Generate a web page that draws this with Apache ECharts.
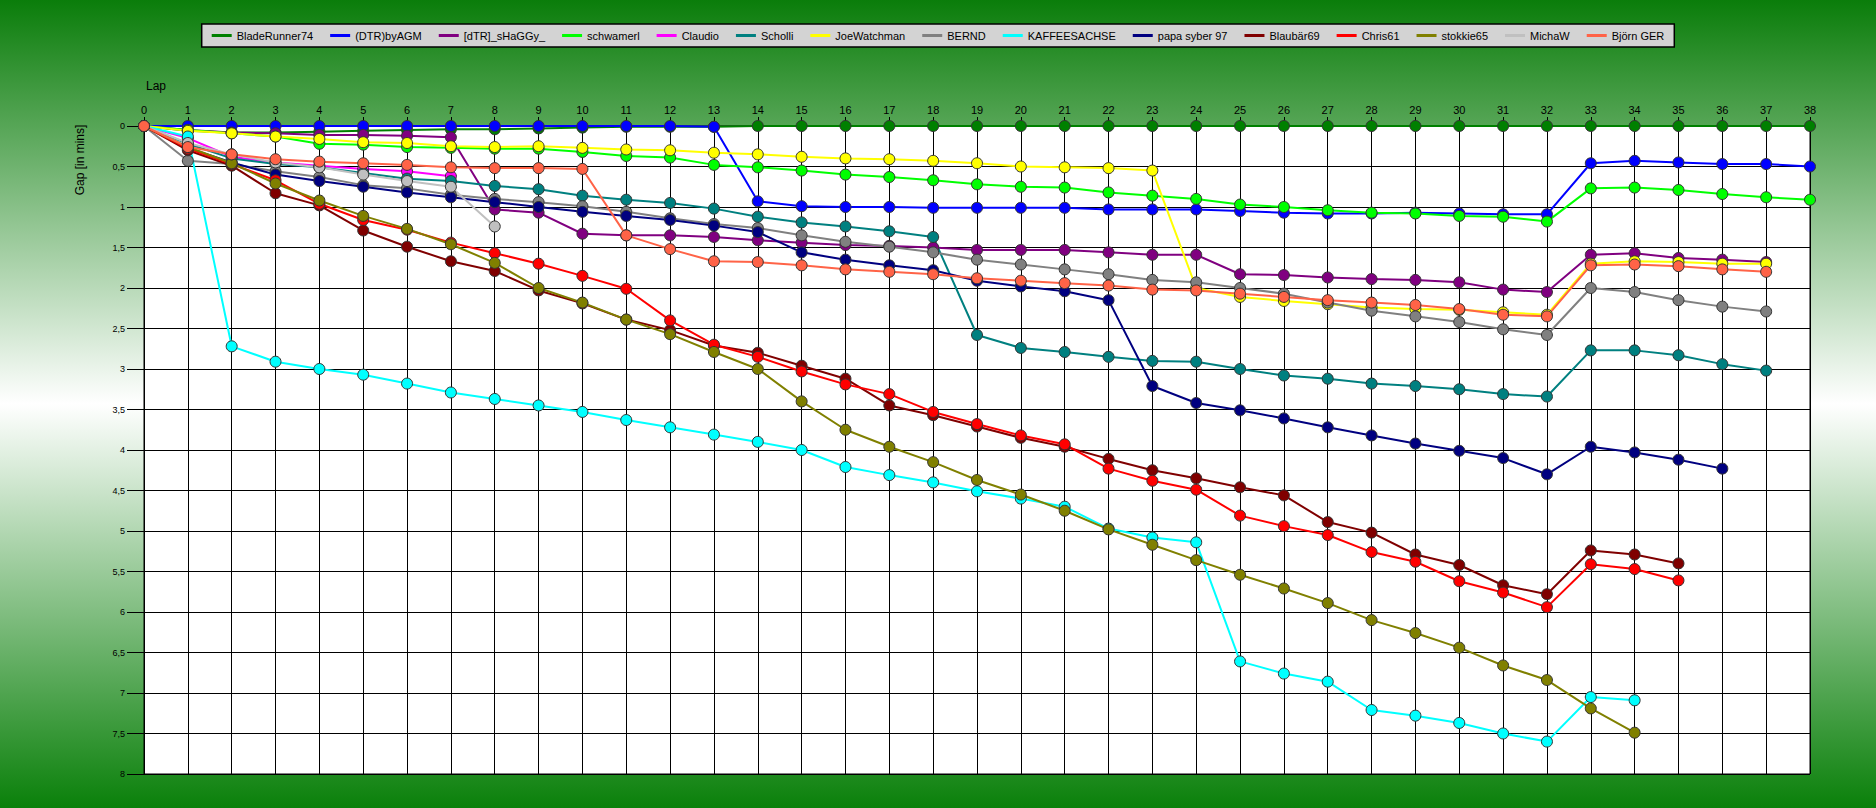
<!DOCTYPE html>
<html>
<head>
<meta charset="utf-8">
<script src="https://cdn.jsdelivr.net/npm/echarts@6/dist/echarts.min.js"></script>
<style>
html,body{margin:0;padding:0;width:1876px;height:808px;overflow:hidden;}
#chart{width:1876px;height:808px;}
</style>
</head>
<body>
<div id="chart"></div>
<script>
var laps = ['0','1','2','3','4','5','6','7','8','9','10','11','12','13','14','15','16','17','18','19','20','21','22','23','24','25','26','27','28','29','30','31','32','33','34','35','36','37','38'];
var yTicks = ['0','0,5','1','1,5','2','2,5','3','3,5','4','4,5','5','5,5','6','6,5','7','7,5','8'];

var names = ['BladeRunner74','(DTR)byAGM','[dTR]_sHaGGy_','schwamerl','Claudio','Scholli','JoeWatchman','BERND','KAFFEESACHSE','papa syber 97','Blaubär69','Chris61','stokkie65','MichaW','Björn GER'];
var colors = ['#008000','#0000FF','#800080','#00FF00','#FF00FF','#008080','#FFFF00','#808080','#00FFFF','#000080','#800000','#FF0000','#808000','#C0C0C0','#FF6347'];

var bladeRunner74 = [0,0.06,0.08,0.08,0.07,0.06,0.05,0.04,0.04,0.03,0.02,0.01,0.01,0.01,0,0,0,0,0,0,0,0,0,0,0,0,0,0,0,0,0,0,0,0,0,0,0,0,0];
var dtrByAGM = [0,0,0,0,0,0,0,0,0,0,0,0,0,0.01,0.93,0.99,1.00,1.00,1.01,1.01,1.01,1.01,1.03,1.03,1.03,1.05,1.07,1.08,1.08,1.07,1.08,1.09,1.09,0.46,0.43,0.45,0.47,0.47,0.50];
var shaggy = [0,0.05,0.08,0.09,0.11,0.11,0.12,0.14,1.03,1.07,1.33,1.35,1.35,1.37,1.41,1.44,1.47,1.48,1.50,1.53,1.53,1.53,1.56,1.59,1.59,1.83,1.84,1.87,1.89,1.90,1.93,2.02,2.05,1.59,1.57,1.63,1.65,1.68];
var schwamerl = [0,0.05,0.09,0.13,0.22,0.23,0.26,0.27,0.28,0.28,0.32,0.37,0.39,0.48,0.51,0.55,0.60,0.63,0.67,0.72,0.75,0.76,0.82,0.86,0.90,0.97,1.00,1.04,1.07,1.08,1.11,1.12,1.18,0.77,0.76,0.79,0.84,0.88,0.91];
var claudio = [0,0.15,0.38,0.45,0.49,0.53,0.56,0.62];
var scholli = [0,0.22,0.40,0.47,0.51,0.58,0.65,0.68,0.74,0.78,0.86,0.91,0.95,1.02,1.12,1.19,1.24,1.30,1.37,2.58,2.74,2.79,2.85,2.90,2.91,3.00,3.08,3.12,3.18,3.21,3.25,3.31,3.34,2.77,2.77,2.83,2.94,3.02];
var joeWatchman = [0,0.06,0.09,0.13,0.16,0.20,0.21,0.25,0.26,0.25,0.27,0.29,0.30,0.33,0.35,0.38,0.40,0.41,0.43,0.46,0.50,0.51,0.52,0.55,2.00,2.11,2.16,2.20,2.24,2.26,2.27,2.30,2.33,1.70,1.67,1.68,1.70,1.70];
var bernd = [0,0.43,0.47,0.56,0.63,0.73,0.77,0.85,0.90,0.94,0.99,1.06,1.14,1.21,1.26,1.35,1.43,1.49,1.56,1.65,1.71,1.77,1.83,1.90,1.93,2.00,2.07,2.18,2.28,2.35,2.42,2.51,2.58,2.00,2.05,2.15,2.23,2.29];
var kaffeesachse = [0,0.13,2.72,2.91,3.00,3.07,3.18,3.29,3.37,3.45,3.53,3.63,3.72,3.81,3.90,4.00,4.21,4.31,4.40,4.51,4.60,4.70,4.97,5.08,5.14,6.61,6.76,6.86,7.21,7.28,7.37,7.50,7.60,7.05,7.09];
var papaSyber97 = [0,0.27,0.45,0.60,0.68,0.75,0.82,0.88,0.94,1.00,1.06,1.11,1.16,1.23,1.31,1.56,1.65,1.72,1.78,1.91,1.98,2.04,2.15,3.21,3.42,3.51,3.61,3.72,3.82,3.92,4.01,4.10,4.30,3.96,4.03,4.12,4.23];
var blaubaer69 = [0,0.30,0.49,0.83,0.98,1.29,1.49,1.67,1.79,2.03,2.19,2.39,2.52,2.71,2.80,2.96,3.12,3.45,3.57,3.71,3.85,3.96,4.11,4.25,4.35,4.46,4.56,4.89,5.02,5.29,5.42,5.67,5.78,5.24,5.29,5.40];
var chris61 = [0,0.28,0.47,0.67,0.96,1.16,1.28,1.44,1.57,1.70,1.85,2.01,2.40,2.70,2.85,3.03,3.19,3.31,3.53,3.68,3.82,3.93,4.23,4.38,4.49,4.81,4.94,5.05,5.26,5.38,5.62,5.76,5.94,5.41,5.47,5.61];
var stokkie65 = [0,0.26,0.46,0.71,0.92,1.11,1.27,1.46,1.69,2.00,2.18,2.39,2.57,2.79,3.00,3.40,3.75,3.96,4.15,4.37,4.55,4.75,4.98,5.17,5.36,5.54,5.71,5.89,6.10,6.26,6.44,6.66,6.84,7.19,7.49];
var michaW = [0,0.21,0.35,0.45,0.51,0.60,0.68,0.75,1.24];
var bjoernGER = [0,0.26,0.35,0.41,0.44,0.46,0.48,0.51,0.52,0.52,0.53,1.35,1.52,1.67,1.68,1.72,1.77,1.80,1.83,1.88,1.91,1.94,1.97,2.02,2.03,2.07,2.11,2.15,2.18,2.21,2.26,2.33,2.35,1.72,1.71,1.73,1.77,1.80];

var seriesData = [bladeRunner74,dtrByAGM,shaggy,schwamerl,claudio,scholli,joeWatchman,bernd,kaffeesachse,papaSyber97,blaubaer69,chris61,stokkie65,michaW,bjoernGER];

var FONT = 'Liberation Sans, Arial, sans-serif';

var series = names.map(function(n,i){
  return {
    name: n,
    type: 'line',
    data: seriesData[i],
    color: colors[i],
    symbol: 'circle',
    symbolSize: 11,
    showAllSymbol: true,
    clip: false,
    lineStyle: {width: 2, color: colors[i]},
    itemStyle: {color: colors[i], borderColor: '#333', borderWidth: 1},
    emphasis: {disabled: true},
    animation: false
  };
});

var chart = echarts.init(document.getElementById('chart'), null, {renderer: 'svg'});
chart.setOption({
  animation: false,
  backgroundColor: {
    type: 'linear', x: 0, y: 0, x2: 0, y2: 1,
    colorStops: [
      {offset: 0, color: '#0a7d0a'},
      {offset: 0.5, color: '#ffffff'},
      {offset: 1, color: '#0a800a'}
    ]
  },
  textStyle: {fontFamily: FONT},
  legend: {
    top: 24,
    left: 'center',
    icon: 'rect',
    itemWidth: 20,
    itemHeight: 3,
    itemGap: 17,
    padding: [6, 10],
    backgroundColor: '#d3d3d3',
    borderColor: '#000',
    borderWidth: 1.5,
    borderRadius: 0,
    itemStyle: {borderWidth: 0},
    textStyle: {fontFamily: FONT, fontSize: 11, color: '#000'},
    selectedMode: false
  },
  grid: {
    left: 144, top: 126, right: 66, bottom: 34,
    show: true, backgroundColor: '#ffffff', borderColor: '#000', borderWidth: 1
  },
  xAxis: {
    type: 'category',
    data: laps,
    position: 'top',
    boundaryGap: false,
    axisLine: {show: true, lineStyle: {color: '#000', width: 1}},
    axisTick: {show: true, length: 9, interval: 0, lineStyle: {color: '#000'}},
    axisLabel: {interval: 0, fontSize: 11, color: '#000', margin: 11, fontFamily: FONT},
    splitLine: {show: true, interval: 0, lineStyle: {color: '#000', width: 1}}
  },
  yAxis: {
    type: 'value',
    inverse: true,
    min: 0, max: 8, interval: 0.5,
    axisLine: {show: true, lineStyle: {color: '#000', width: 1}},
    axisTick: {show: true, length: 17, lineStyle: {color: '#000'}},
    axisLabel: {
      fontSize: 9, color: '#000', margin: 19, fontFamily: FONT,
      formatter: function(v){ return yTicks[Math.round(v*2)]; }
    },
    splitLine: {show: true, lineStyle: {color: '#000', width: 1}}
  },
  graphic: [
    {type: 'text', left: 146, top: 80, style: {text: 'Lap', fontSize: 12, fill: '#000', fontFamily: FONT}},
    {type: 'text', x: 80, y: 160, rotation: Math.PI/2, style: {text: 'Gap [in mins]', fontSize: 12, fill: '#000', fontFamily: FONT, align: 'center', verticalAlign: 'middle'}}
  ],
  series: series
});
</script>
</body>
</html>
